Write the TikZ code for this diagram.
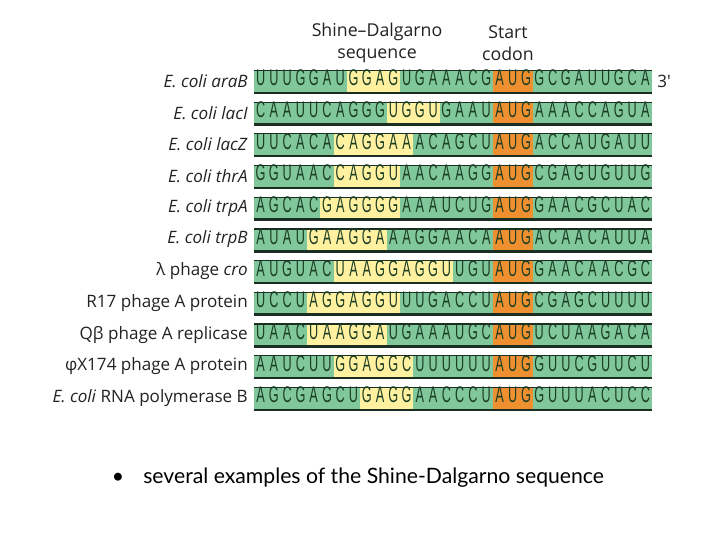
\documentclass[tikz,border=0pt]{standalone}
\usepackage{fontspec}
\setmainfont{Open Sans}
\newfontfamily\seqfont[FakeStretch=0.56]{Liberation Sans}
\newfontfamily\notefont{Lato}
\definecolor{barGreen}{HTML}{80C79C}
\definecolor{sdYellow}{HTML}{FFF1A0}
\definecolor{augOrange}{HTML}{EF9030}
\definecolor{barDark}{HTML}{1A2E22}
\definecolor{letterCol}{HTML}{1B3D24}
\definecolor{labelCol}{HTML}{222222}
\newcount\seqidx
\def\cellw{13.27}
\def\seqx{254}
\tikzset{
  seqletter/.style={inner sep=0pt, text=letterCol, font=\seqfont\fontsize{17}{18}\selectfont, anchor=center},
  rowlabel/.style={inner sep=0pt, anchor=east, text=labelCol, font=\fontsize{12.8}{14}\selectfont},
  header/.style={inner sep=0pt, align=center, text=labelCol, font=\fontsize{13.3}{16.5}\selectfont},
}
\def\seqloop#1{\ifx#1\relax\else
  \global\advance\seqidx by 1
  \node[seqletter] (r\rowid c\the\seqidx) at ({\seqx+(\the\seqidx-0.5)*\cellw},\rowy) {\strut #1};
  \expandafter\seqloop\fi}
% #1 row id, #2 y, #3 SD start, #4 SD end, #5 label, #6 sequence
\newcommand{\seqrow}[6]{%
  \def\rowid{#1}\def\rowy{#2}%
  \fill[barGreen] (\seqx,#2-10) rectangle (652,#2+10.5);
  \fill[sdYellow] ({\seqx+(#3-1)*\cellw},#2-10) rectangle ({\seqx+#4*\cellw},#2+10.5);
  \fill[augOrange] ({\seqx+18*\cellw},#2-10) rectangle ({\seqx+21*\cellw},#2+10.5);
  \fill[barDark] (\seqx,#2-11.2) rectangle (652,#2-10);
  \fill[barDark] (\seqx,#2+10.5) rectangle (652,#2+13);
  \node[rowlabel] (lab#1) at (248,#2) {#5};
  \global\seqidx=0
  \seqloop#6\relax
}
\begin{document}
\begin{tikzpicture}[x=0.75pt,y=-0.75pt]
\useasboundingbox (0,0) rectangle (720,540);
\fill[white] (0,0) rectangle (720,540);

\node[header] (hsd) at (377,43) {Shine–Dalgarno\\sequence};
\node[header] (hstart) at (508,43) {Start\\codon};

\seqrow{1}{81}{8}{11}{\textit{E. coli araB}}{UUUGGAUGGAGUGAAACGAUGGCGAUUGCA}
\seqrow{2}{112.7}{11}{14}{\textit{E. coli lacI}}{CAAUUCAGGGUGGUGAAUAUGAAACCAGUA}
\seqrow{3}{144.4}{7}{12}{\textit{E. coli lacZ}}{UUCACACAGGAAACAGCUAUGACCAUGAUU}
\seqrow{4}{176.1}{7}{11}{\textit{E. coli thrA}}{GGUAACCAGGUAACAAGGAUGCGAGUGUUG}
\seqrow{5}{207.8}{6}{11}{\textit{E. coli trpA}}{AGCACGAGGGGAAAUCUGAUGGAACGCUAC}
\seqrow{6}{239.5}{5}{10}{\textit{E. coli trpB}}{AUAUGAAGGAAAGGAACAAUGACAACAUUA}
\seqrow{7}{271.2}{7}{15}{λ phage \textit{cro}}{AUGUACUAAGGAGGUUGUAUGGAACAACGC}
\seqrow{8}{302.9}{5}{11}{R17 phage A protein}{UCCUAGGAGGUUUGACCUAUGCGAGCUUUU}
\seqrow{9}{334.6}{5}{10}{Qβ phage A replicase}{UAACUAAGGAUGAAAUGCAUGUCUAAGACA}
\seqrow{10}{366.3}{7}{12}{φX174 phage A protein}{AAUCUUGGAGGCUUUUUUAUGGUUCGUUCU}
\seqrow{11}{398}{9}{12}{\textit{E. coli} RNA polymerase B}{AGCGAGCUGAGGAACCCUAUGGUUUACUCC}

\node[rowlabel, anchor=west] (three) at (657,81) {3′};

\node[inner sep=0pt, text=black, font=\notefont\fontsize{15.9}{17}\selectfont] (bul) at (118,478) {•};
\node[inner sep=0pt, anchor=west, text=black, font=\notefont\fontsize{15.9}{17}\selectfont] (note) at (143,478) {several examples of the Shine-Dalgarno sequence};
\end{tikzpicture}
\end{document}
